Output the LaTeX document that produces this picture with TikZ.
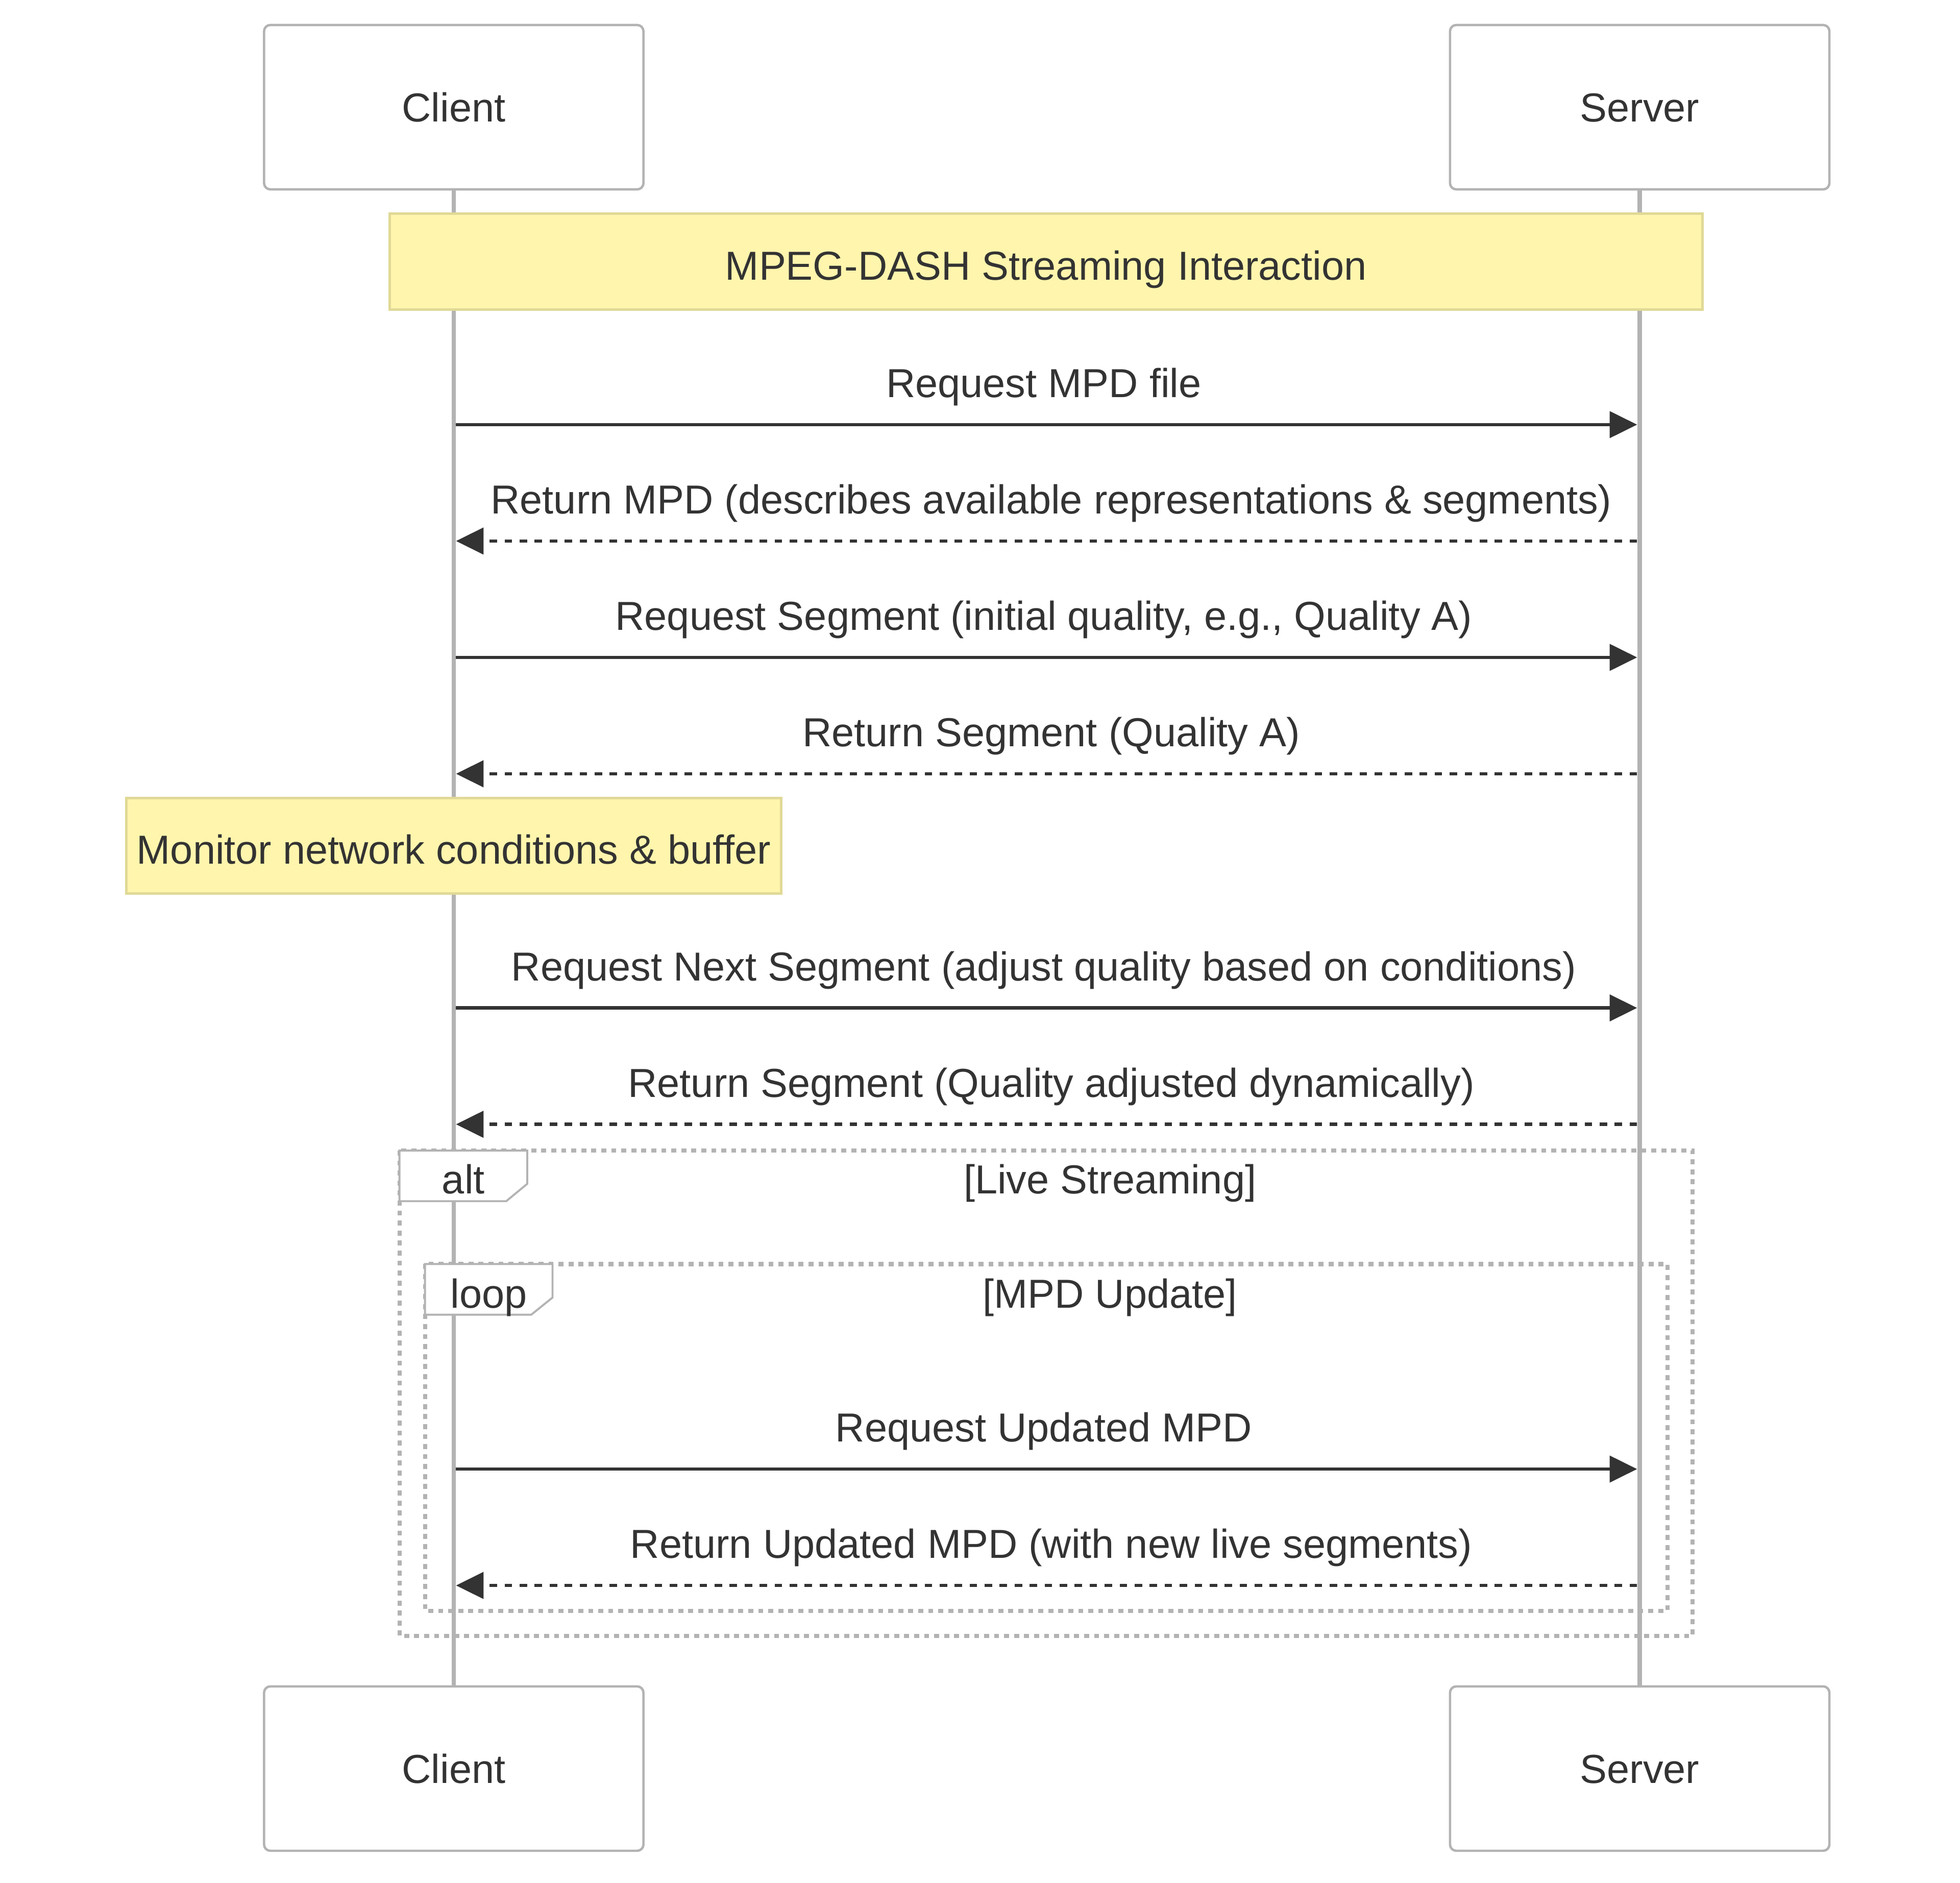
\documentclass[tikz,border=0pt]{standalone}
\usepackage{fontspec}
\setmainfont{Liberation Sans}
\usetikzlibrary{arrows.meta}

\definecolor{ink}{HTML}{333333}
\definecolor{rulegray}{HTML}{B3B3B3}
\definecolor{notefill}{HTML}{FFF5AD}
\definecolor{noteline}{RGB}{224,217,150}

\newcommand\diagfont{\fontsize{32.4}{38}\selectfont}

\tikzset{
  txt/.style={text=ink, font=\diagfont, inner sep=0pt, text height=23.2pt, text depth=0pt},
  actor/.style={txt, draw=rulegray, line width=1.9pt, rounded corners=5pt, fill=white,
                minimum width=303.5pt, minimum height=131.5pt},
  lifeline/.style={draw=rulegray, line width=3.6pt},
  notebox/.style={txt, text height=29pt, draw=noteline, fill=notefill, line width=2pt,
                  minimum height=77pt},
  msgtext/.style={text=ink, font=\diagfont, inner sep=0pt, anchor=base},
  call/.style={draw=ink, line width=2.7pt, -{Triangle[length=22pt,width=21pt]},
               shorten >=1.8pt, shorten <=1.8pt},
  reply/.style={call, dash pattern=on 6pt off 6pt},
  frame/.style={draw=rulegray, line width=3.4pt, dash pattern=on 4pt off 4pt},
  tagbox/.style={draw=rulegray, line width=1.6pt, fill=white},
}

\begin{document}
\begin{tikzpicture}[x=1pt, y=-1pt]
  \useasboundingbox[fill=white] (0,0) rectangle (1568,1506.3);

  % participants, top and bottom
  \node[actor] (clientTop) at (363,85.75)    {Client};
  \node[actor] (serverTop) at (1311.75,85.75) {Server};
  \node[actor] (clientBot) at (363,1414.8)    {Client};
  \node[actor] (serverBot) at (1311.75,1414.8) {Server};

  % lifelines
  \draw[lifeline] (clientTop.south) -- (clientBot.north);
  \draw[lifeline] (serverTop.south) -- (serverBot.north);

  % notes
  \node[notebox, minimum width=1050.4pt] (titleNote) at (836.8,209.3)
        {MPEG-DASH Streaming Interaction};
  \node[notebox, minimum width=524pt, minimum height=76.3pt] (monitorNote) at (363,676.5)
        {Monitor network conditions \& buffer};

  % alt and loop frames
  \draw[frame] (319.6,920.4) rectangle (1354,1308.7);
  \draw[tagbox] (319.6,920.4) -- (421.8,920.4) -- (421.8,947) -- (405,960.9)
                -- (319.6,960.9) -- cycle;
  \node[msgtext] (altTag)  at (370.7,954.9) {alt};
  \node[msgtext] (altCond) at (888,954.9)   {[Live Streaming]};

  \draw[frame] (340,1011.2) rectangle (1334,1288.6);
  \draw[tagbox] (340,1011.2) -- (442,1011.2) -- (442,1038) -- (425,1051.7)
                -- (340,1051.7) -- cycle;
  \node[msgtext] (loopTag)  at (391,1046.2)  {loop};
  \node[msgtext] (loopCond) at (888,1046.2)  {[MPD Update]};

  % message anchor points on the lifelines
  \foreach \i/\y in {1/339.7, 2/432.8, 3/525.9, 4/619.0, 5/806.3, 6/899.4, 7/1175.2, 8/1268.3}{
    \coordinate (c\i) at (363,\y);
    \coordinate (s\i) at (1311.5,\y);
  }

  % messages
  \node[msgtext] (m1) at (835,317.9)  {Request MPD file};
  \draw[call] (c1) -- (s1);

  \node[msgtext] (m2) at (841,411.0)  {Return MPD (describes available representations \& segments)};
  \draw[reply] (s2) -- (c2);

  \node[msgtext] (m3) at (835,504.1)  {Request Segment (initial quality, e.g., Quality A)};
  \draw[call] (c3) -- (s3);

  \node[msgtext] (m4) at (841,597.2)  {Return Segment (Quality A)};
  \draw[reply] (s4) -- (c4);

  \node[msgtext] (m5) at (835,784.5)  {Request Next Segment (adjust quality based on conditions)};
  \draw[call] (c5) -- (s5);

  \node[msgtext] (m6) at (841,877.6)  {Return Segment (Quality adjusted dynamically)};
  \draw[reply] (s6) -- (c6);

  \node[msgtext] (m7) at (835,1153.4) {Request Updated MPD};
  \draw[call] (c7) -- (s7);

  \node[msgtext] (m8) at (841,1246.5) {Return Updated MPD (with new live segments)};
  \draw[reply] (s8) -- (c8);
\end{tikzpicture}
\end{document}
